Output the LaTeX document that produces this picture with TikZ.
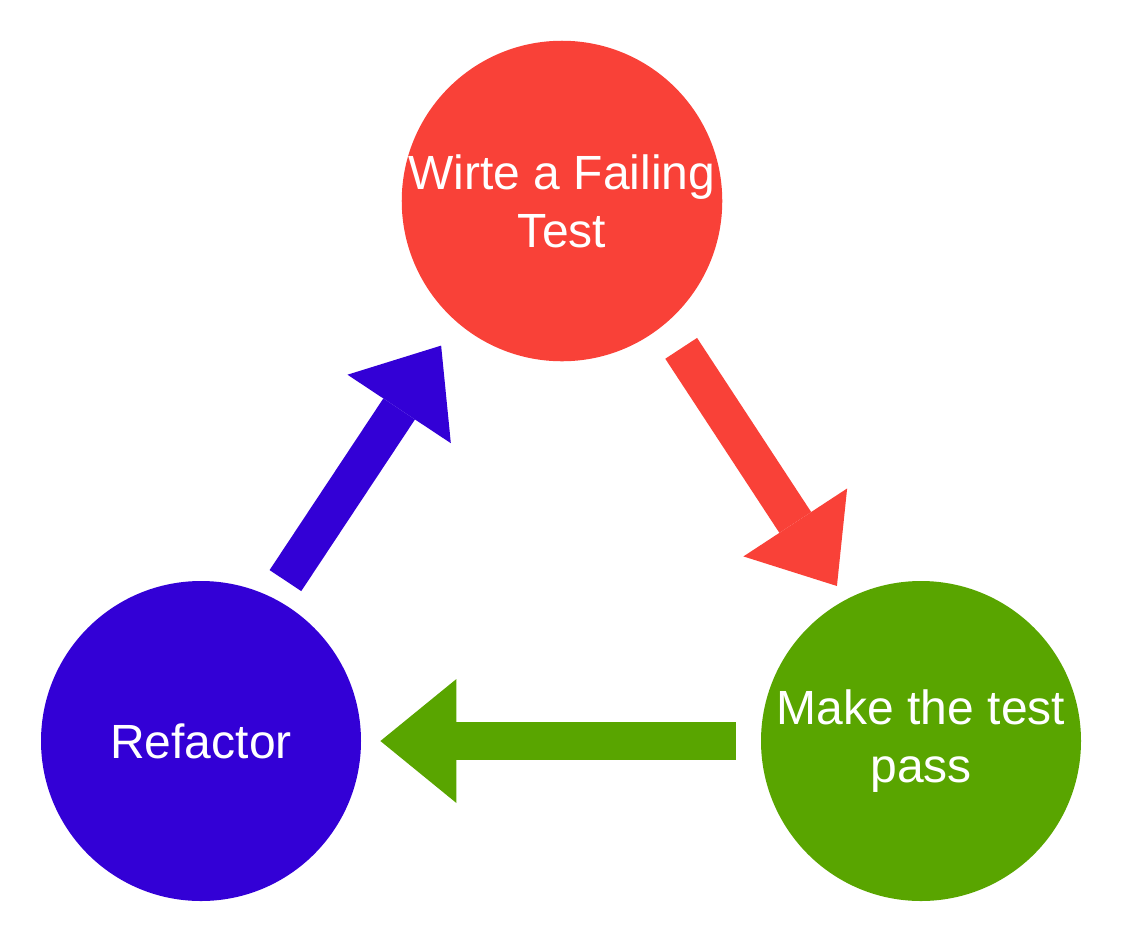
\documentclass[tikz,border=0pt]{standalone}
\usepackage{fontspec}
\setmainfont{Liberation Sans}
\usetikzlibrary{arrows.meta}

\definecolor{tddred}{RGB}{249,65,56}
\definecolor{tddgreen}{RGB}{89,165,0}
\definecolor{tddblue}{RGB}{51,0,214}

\tikzset{
    stage/.style={circle, minimum size=160pt, inner sep=0pt, align=center, text=white, font=\fontsize{24}{29}\selectfont},
    fatarrow/.style={line width=19pt, -{Triangle[width=62pt,length=38pt,line width=0pt]}}
}

\begin{document}
\begin{tikzpicture}[x=0.5pt, y=-0.5pt]
                \useasboundingbox (0,0) rectangle (1124,944);

                % --------
                % Stages
                % --------
                \node[stage, fill=tddred] at (562, 201) (fail) {Wirte a Failing\\Test};
                \node[stage, fill=tddgreen] at (921, 741) (pass) {Make the test\\pass};
                \node[stage, fill=tddblue] at (201, 741) (refactor) {Refactor};

                % Draw line
                \draw[fatarrow, tddred, shorten <=14.5pt, shorten >=8pt] (fail.-50) -- (pass.118);
                \draw[fatarrow, tddgreen, shorten <=12.5pt, shorten >=9.5pt] (pass.180) -- (refactor.0);
                \draw[fatarrow, tddblue, shorten <=10.5pt, shorten >=14pt] (refactor.63) -- (fail.229);

\end{tikzpicture}
\end{document}
